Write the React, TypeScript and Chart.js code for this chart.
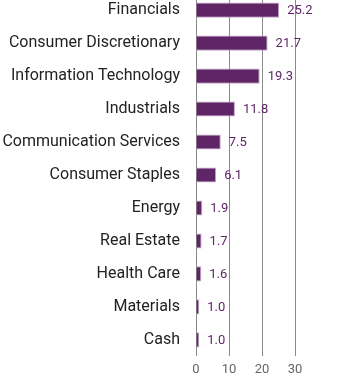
import React, { useEffect, useRef } from "react";
import { Chart, registerables } from "chart.js";

Chart.register(...registerables);

const categories = [
  "Financials",
  "Consumer Discretionary",
  "Information Technology",
  "Industrials",
  "Communication Services",
  "Consumer Staples",
  "Energy",
  "Real Estate",
  "Health Care",
  "Materials",
  "Cash",
];
const weights = [25.2, 21.7, 19.3, 11.8, 7.5, 6.1, 1.9, 1.7, 1.6, 1.0, 1.0];
const xTicks = [0, 10, 20, 30];

const PURPLE = "#5f2567";

const valueLabels = {
  id: "valueLabels",
  afterDatasetsDraw(chart: any) {
    const ctx = chart.ctx;
    const meta = chart.getDatasetMeta(0);
    ctx.save();
    ctx.font = "13px Roboto";
    ctx.fillStyle = PURPLE;
    ctx.textAlign = "left";
    ctx.textBaseline = "middle";
    meta.data.forEach((bar: any, i: number) => {
      ctx.fillText(weights[i].toFixed(1), bar.x + 8, bar.y + 1);
    });
    ctx.restore();
  },
};

export default function App() {
  const ref = useRef<HTMLCanvasElement>(null);
  useEffect(() => {
    if (!ref.current) return;
    const chart = new Chart(ref.current, {
      type: "bar",
      data: {
        labels: categories,
        datasets: [
          {
            data: weights,
            backgroundColor: PURPLE,
            borderColor: "#c3a6c8",
            borderWidth: 1,
            categoryPercentage: 1,
            barPercentage: 0.46,
          },
        ],
      },
      options: {
        indexAxis: "y",
        animation: false,
        responsive: false,
        maintainAspectRatio: false,
        layout: { padding: { right: 45, top: 0, left: 0, bottom: 0 } },
        plugins: { legend: { display: false }, tooltip: { enabled: false } },
        scales: {
          x: {
            min: 0,
            max: 30,
            afterBuildTicks: (s: any) => {
              s.ticks = xTicks.map((v) => ({ value: v }));
            },
            grid: { color: "#8a8a8a", drawTicks: false, lineWidth: 1 },
            border: { display: false },
            ticks: {
              padding: 6,
              color: "#666",
              font: { family: "Roboto", size: 13 },
            },
          },
          y: {
            afterFit: (s: any) => {
              s.width = 196;
            },
            grid: { display: false, drawTicks: false },
            border: { display: false },
            ticks: {
              padding: 16,
              color: "#222",
              font: { family: "Roboto", size: 16 },
            },
          },
        },
      },
      plugins: [valueLabels],
    });
    return () => chart.destroy();
  }, []);
  return (
    <div
      style={{
        position: "absolute",
        left: 0,
        top: 0,
        width: 340,
        height: 379,
        overflow: "hidden",
      }}
    >
      <div style={{ position: "absolute", left: 0, top: -32, width: 340, height: 416 }}>
        <canvas ref={ref} width={340} height={416} style={{ width: 340, height: 416 }} />
      </div>
    </div>
  );
}
